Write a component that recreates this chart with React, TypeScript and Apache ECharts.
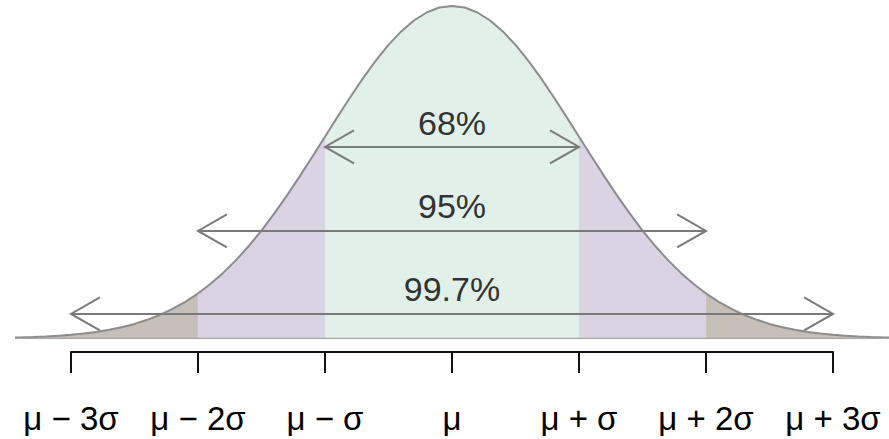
import React, { useEffect, useRef } from "react";
import * as echarts from "echarts";

// Standard-normal density (z in σ units)
const Z_VALUES = [
  -3.44, -3.4, -3.3, -3.2, -3.1, -3.0, -2.9, -2.8, -2.7, -2.6, -2.5, -2.4, -2.3, -2.2, -2.1,
  -2.0, -1.9, -1.8, -1.7, -1.6, -1.5, -1.4, -1.3, -1.2, -1.1, -1.0, -0.9, -0.8, -0.7, -0.6,
  -0.5, -0.4, -0.3, -0.2, -0.1, 0.0, 0.1, 0.2, 0.3, 0.4, 0.5, 0.6, 0.7, 0.8, 0.9, 1.0, 1.1,
  1.2, 1.3, 1.4, 1.5, 1.6, 1.7, 1.8, 1.9, 2.0, 2.1, 2.2, 2.3, 2.4, 2.5, 2.6, 2.7, 2.8, 2.9,
  3.0, 3.1, 3.2, 3.3, 3.4, 3.44,
];
const DENSITY = [
  0.0011, 0.0012, 0.0017, 0.0024, 0.0033, 0.0044, 0.006, 0.0079, 0.0104, 0.0136, 0.0175,
  0.0224, 0.0283, 0.0355, 0.044, 0.054, 0.0656, 0.079, 0.094, 0.1109, 0.1295, 0.1497, 0.1714,
  0.1942, 0.2179, 0.242, 0.2661, 0.2897, 0.3123, 0.3332, 0.3521, 0.3683, 0.3814, 0.391, 0.397,
  0.3989, 0.397, 0.391, 0.3814, 0.3683, 0.3521, 0.3332, 0.3123, 0.2897, 0.2661, 0.242, 0.2179,
  0.1942, 0.1714, 0.1497, 0.1295, 0.1109, 0.094, 0.079, 0.0656, 0.054, 0.044, 0.0355, 0.0283,
  0.0224, 0.0175, 0.0136, 0.0104, 0.0079, 0.006, 0.0044, 0.0033, 0.0024, 0.0017, 0.0012, 0.0011,
];

// Shaded bands: [from, to] in σ
const BAND_FROM = [-3.44, -2, -1, 1, 2];
const BAND_TO = [-2, -1, 1, 2, 3.44];
const BAND_COLORS = ["#c6beb9", "#d9d3e3", "#e1f1e9", "#d9d3e3", "#c6beb9"];

// Ticks
const TICK_VALUES = [-3, -2, -1, 0, 1, 2, 3];
const TICK_LABELS = ["μ − 3σ", "μ − 2σ", "μ − σ", "μ", "μ + σ", "μ + 2σ", "μ + 3σ"];

// Arrows with percentages
const ARROW_LABELS = ["68%", "95%", "99.7%"];
const ARROW_HALF_WIDTH = [1, 2, 3];
const ARROW_LEVEL = [0.2298, 0.129, 0.0294];
const LABEL_LEVEL = [0.2585, 0.159, 0.0594];

const FONT = "'Liberation Sans', Arial, Helvetica, sans-serif";

export default function App() {
  const ref = useRef<HTMLDivElement | null>(null);

  useEffect(() => {
    document.body.style.margin = "0";
    if (!ref.current) return;
    const chart = echarts.init(ref.current, undefined, { renderer: "svg" });

    const curve = Z_VALUES.map((z, i) => [z, DENSITY[i]]);
    const bandSeries = BAND_FROM.map((a, k) => ({
      type: "line",
      xAxisIndex: 0,
      yAxisIndex: 0,
      silent: true,
      showSymbol: false,
      symbol: "none",
      z: 1,
      lineStyle: { width: 0, opacity: 0 },
      areaStyle: { color: BAND_COLORS[k], opacity: 1, origin: "start" },
      data: curve.filter((p) => p[0] >= a - 1e-9 && p[0] <= BAND_TO[k] + 1e-9),
    }));

    const arrowData = ARROW_LABELS.map((lab, i) => [
      -ARROW_HALF_WIDTH[i],
      ARROW_HALF_WIDTH[i],
      ARROW_LEVEL[i],
      LABEL_LEVEL[i],
      i,
    ]);

    const option: any = {
      animation: false,
      grid: [
        { left: 15, right: 0, top: 5, bottom: 100.5 },
        { left: 71, right: 56, bottom: 87, height: 1 },
      ],
      xAxis: [
        { type: "value", gridIndex: 0, min: -3.44, max: 3.44, show: false },
        {
          type: "value",
          gridIndex: 1,
          min: -3,
          max: 3,
          interval: 1,
          position: "bottom",
          axisLine: { show: true, lineStyle: { color: "#111", width: 2 } },
          axisTick: { show: true, length: 21, inside: false, lineStyle: { color: "#111", width: 2 } },
          splitLine: { show: false },
          axisLabel: {
            show: true,
            showMinLabel: true,
            showMaxLabel: true,
            margin: 50,
            fontSize: 33,
            fontFamily: FONT,
            color: "#000",
            formatter: (v: number) => {
              const idx = TICK_VALUES.indexOf(Math.round(v));
              return idx >= 0 ? TICK_LABELS[idx] : "";
            },
          },
        },
      ],
      yAxis: [
        { type: "value", gridIndex: 0, min: 0, max: 0.4, show: false },
        { type: "value", gridIndex: 1, min: 0, max: 1, show: false },
      ],
      series: [
        ...bandSeries,
        {
          type: "line",
          xAxisIndex: 0,
          yAxisIndex: 0,
          silent: true,
          showSymbol: false,
          symbol: "none",
          z: 2,
          lineStyle: { color: "#8c8c8c", width: 2 },
          data: curve,
        },
        {
          type: "line",
          xAxisIndex: 0,
          yAxisIndex: 0,
          silent: true,
          showSymbol: false,
          symbol: "none",
          z: 2,
          lineStyle: { color: "#a9a9a9", width: 1.5 },
          data: [
            [Z_VALUES[0], 0],
            [Z_VALUES[Z_VALUES.length - 1], 0],
          ],
        },
        {
          type: "custom",
          xAxisIndex: 0,
          yAxisIndex: 0,
          silent: true,
          z: 5,
          clip: false,
          data: arrowData,
          renderItem: (params: any, api: any) => {
            const x1 = api.value(0);
            const x2 = api.value(1);
            const ya = api.value(2);
            const yt = api.value(3);
            const idx = api.value(4);
            const p1 = api.coord([x1, ya]);
            const p2 = api.coord([x2, ya]);
            const pt = api.coord([(x1 + x2) / 2, yt]);
            const dx = 29;
            const dy = 16.5;
            const ls = { stroke: "#7a7a7a", lineWidth: 2, fill: null };
            return {
              type: "group",
              children: [
                { type: "line", shape: { x1: p1[0], y1: p1[1], x2: p2[0], y2: p2[1] }, style: ls },
                {
                  type: "polyline",
                  shape: { points: [[p1[0] + dx, p1[1] - dy], [p1[0], p1[1]], [p1[0] + dx, p1[1] + dy]] },
                  style: ls,
                },
                {
                  type: "polyline",
                  shape: { points: [[p2[0] - dx, p2[1] - dy], [p2[0], p2[1]], [p2[0] - dx, p2[1] + dy]] },
                  style: ls,
                },
                {
                  type: "text",
                  x: pt[0],
                  y: pt[1],
                  style: {
                    text: ARROW_LABELS[idx],
                    fill: "#333",
                    fontSize: 34,
                    fontFamily: FONT,
                    align: "center",
                    verticalAlign: "middle",
                  },
                },
              ],
            };
          },
        },
      ],
    };

    chart.setOption(option);
    return () => chart.dispose();
  }, []);

  return (
    <div
      ref={ref}
      style={{ position: "fixed", left: 0, top: 0, width: 889, height: 439, background: "#fff" }}
    />
  );
}
